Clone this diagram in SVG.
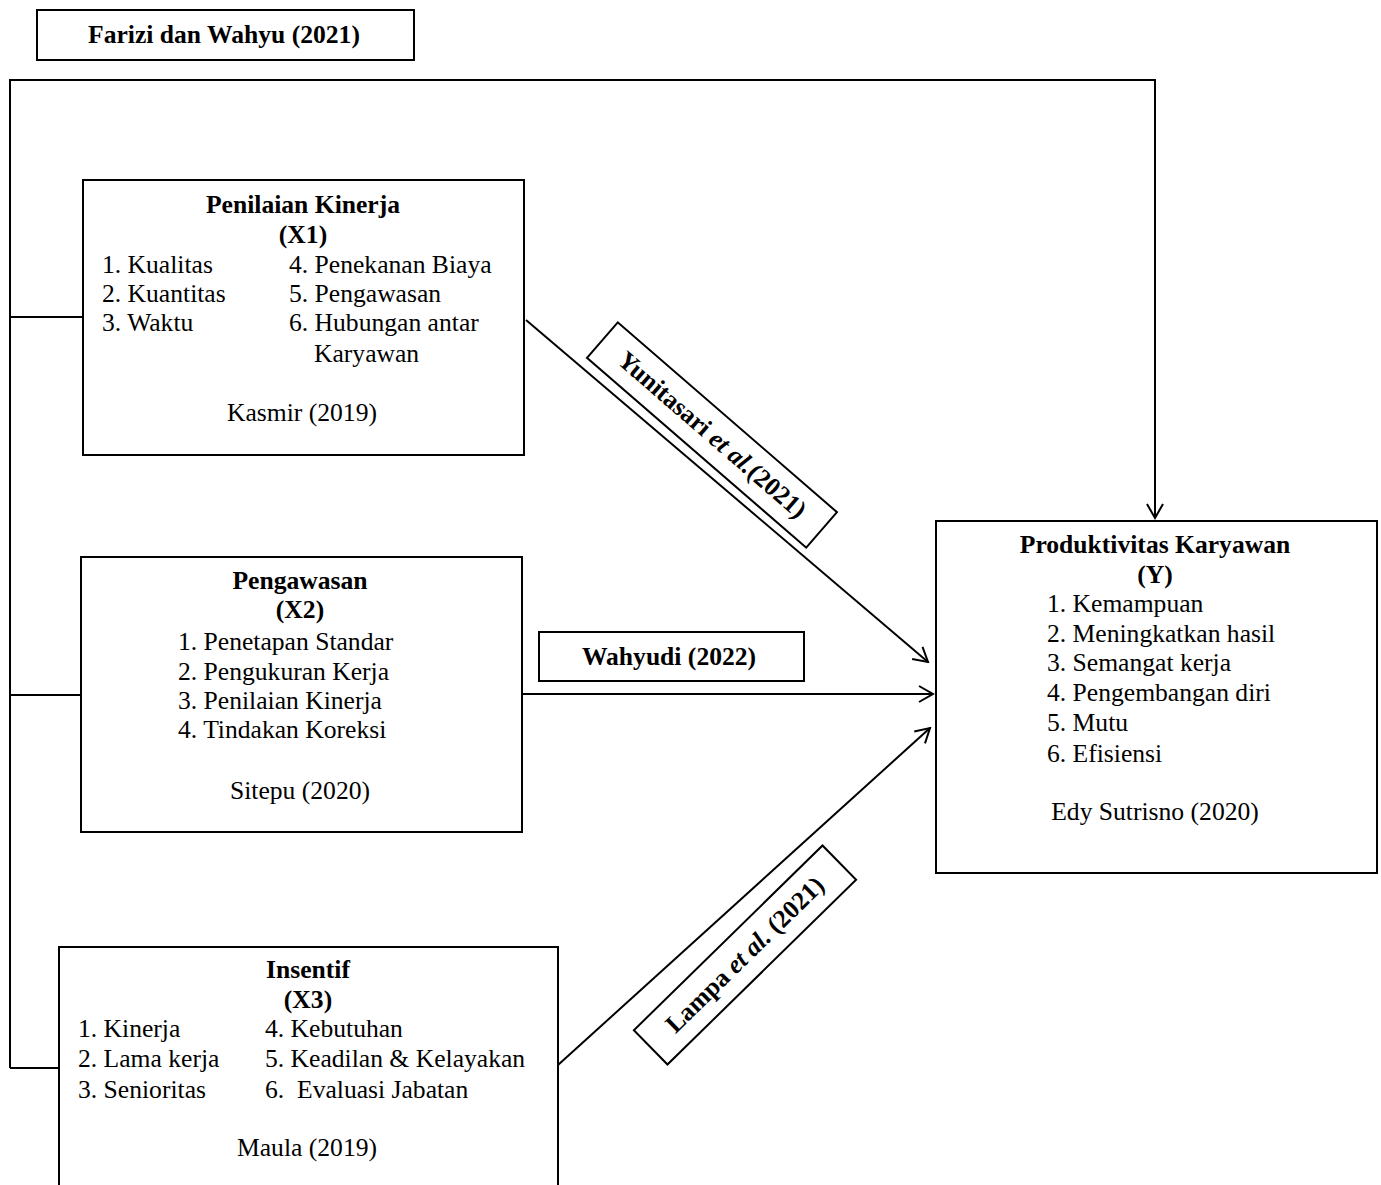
<svg xmlns="http://www.w3.org/2000/svg" width="1381" height="1185" viewBox="0 0 1381 1185">
<style>
.box{fill:#fff;stroke:#000;stroke-width:2}
.ln{fill:none;stroke:#000;stroke-width:2}
text{font-family:"Liberation Serif","Times New Roman",serif;font-size:25.6px;fill:#000}
.b{font-weight:bold}
.m{text-anchor:middle}
</style>
<defs>
<marker id="ar" viewBox="0 0 20 20" refX="18" refY="10" markerWidth="20" markerHeight="20" markerUnits="userSpaceOnUse" orient="auto">
<polyline points="4,2 18,10 4,18" fill="none" stroke="#000" stroke-width="2"/>
</marker>
</defs>
<rect width="1381" height="1185" fill="#fff"/>
<g id="connectors">
<polyline class="ln" points="10,1068 10,80 1155,80 1155,518" marker-end="url(#ar)"/>
<line class="ln" x1="10" y1="317" x2="83" y2="317"/>
<line class="ln" x1="10" y1="695" x2="81" y2="695"/>
<line class="ln" x1="10" y1="1068" x2="59" y2="1068"/>
<line class="ln" x1="526" y1="320" x2="928" y2="662" marker-end="url(#ar)"/>
<line class="ln" x1="522" y1="694" x2="933" y2="694" marker-end="url(#ar)"/>
<line class="ln" x1="558" y1="1065" x2="930" y2="728" marker-end="url(#ar)"/>
</g>
<g id="label-farizi">
<rect class="box" x="37" y="10" width="377" height="50"/>
<text class="b m" x="224" y="43">Farizi dan Wahyu (2021)</text>
</g>
<g id="node-x1">
<rect class="box" x="83" y="180" width="441" height="275"/>
<text class="b m" x="303" y="213">Penilaian Kinerja</text>
<text class="b m" x="303" y="243">(X1)</text>
<text x="102" y="273">1. Kualitas</text>
<text x="102" y="302">2. Kuantitas</text>
<text x="102" y="331">3. Waktu</text>
<text x="289" y="273">4. Penekanan Biaya</text>
<text x="289" y="302">5. Pengawasan</text>
<text x="289" y="331">6. Hubungan antar</text>
<text x="314" y="362">Karyawan</text>
<text class="m" x="302" y="421">Kasmir (2019)</text>
</g>
<g id="node-x2">
<rect class="box" x="81" y="557" width="441" height="275"/>
<text class="b m" x="300" y="589">Pengawasan</text>
<text class="b m" x="300" y="618">(X2)</text>
<text x="178" y="650">1. Penetapan Standar</text>
<text x="178" y="680">2. Pengukuran Kerja</text>
<text x="178" y="709">3. Penilaian Kinerja</text>
<text x="178" y="738">4. Tindakan Koreksi</text>
<text class="m" x="300" y="799">Sitepu (2020)</text>
</g>
<g id="node-x3">
<rect class="box" x="59" y="947" width="499" height="260"/>
<text class="b m" x="308" y="978">Insentif</text>
<text class="b m" x="308" y="1008">(X3)</text>
<text x="78" y="1037">1. Kinerja</text>
<text x="78" y="1067">2. Lama kerja</text>
<text x="78" y="1098">3. Senioritas</text>
<text x="265" y="1037">4. Kebutuhan</text>
<text x="265" y="1067">5. Keadilan &amp; Kelayakan</text>
<text x="265" y="1098" xml:space="preserve">6.  Evaluasi Jabatan</text>
<text class="m" x="307" y="1156">Maula (2019)</text>
</g>
<g id="node-y">
<rect class="box" x="936" y="521" width="441" height="352"/>
<text class="b m" x="1155" y="553">Produktivitas Karyawan</text>
<text class="b m" x="1155" y="583">(Y)</text>
<text x="1047" y="612">1. Kemampuan</text>
<text x="1047" y="642">2. Meningkatkan hasil</text>
<text x="1047" y="671">3. Semangat kerja</text>
<text x="1047" y="701">4. Pengembangan diri</text>
<text x="1047" y="731">5. Mutu</text>
<text x="1047" y="762">6. Efisiensi</text>
<text class="m" x="1155" y="820">Edy Sutrisno (2020)</text>
</g>
<g id="label-wahyudi">
<rect class="box" x="539" y="632" width="265" height="49"/>
<text class="b m" x="669" y="665">Wahyudi (2022)</text>
</g>
<g id="label-yunitasari" transform="translate(712,435) rotate(40.9)">
<rect class="box" x="-145" y="-23.5" width="290" height="47"/>
<text class="b m" x="0" y="8">Yunitasari <tspan font-style="italic">et al.</tspan>(2021)</text>
</g>
<g id="label-lampa" transform="translate(745,955) rotate(-44.4)">
<rect class="box" x="-132" y="-24" width="264" height="48"/>
<text class="b m" x="0" y="8">Lampa <tspan font-style="italic">et al.</tspan> (2021)</text>
</g>
</svg>
